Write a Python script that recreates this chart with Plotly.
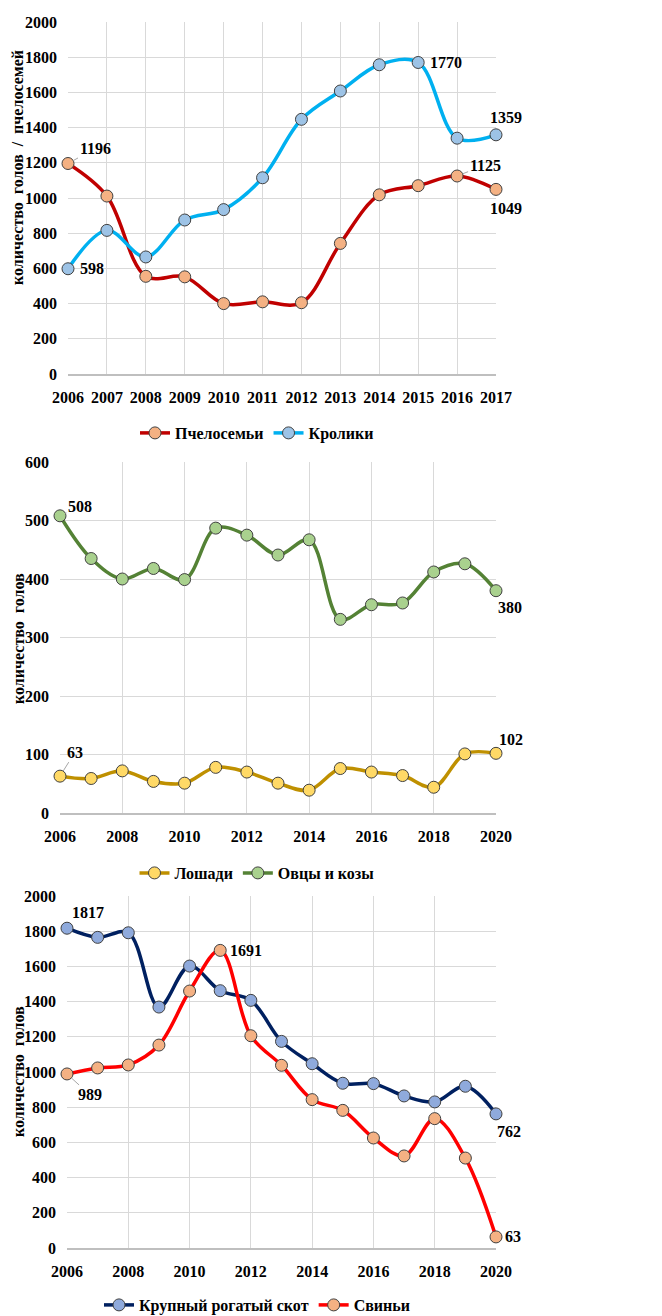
import plotly.graph_objects as go

W, H = 662, 1316

# ---------------- data ----------------
years1 = list(range(2006, 2018))
bees = [1196, 1011, 555, 552, 400, 410, 405, 742, 1018, 1070, 1125, 1049]
rabbits = [598, 816, 665, 875, 934, 1115, 1447, 1608, 1757, 1770, 1340, 1359]

years2 = list(range(2006, 2021))
horses = [63, 59, 72, 54, 51, 78, 70, 51, 39, 76, 70, 64, 44, 101, 102]
sheep = [508, 435, 400, 418, 399, 487, 475, 441, 467, 331, 356, 359, 412, 426, 380]

years3 = list(range(2006, 2021))
cattle = [1817, 1765, 1791, 1369, 1602, 1462, 1407, 1174, 1047, 936, 934, 864, 830, 919, 762]
pigs = [989, 1023, 1040, 1153, 1460, 1691, 1206, 1038, 843, 782, 625, 523, 735, 511, 63]

names1 = ["Пчелосемьи", "Кролики"]
names2 = ["Лошади", "Овцы и козы"]
names3 = ["Крупный рогатый скот", "Свиньи"]
ytitle1 = "количество  голов  /  пчелосемей"
ytitle23 = "количество  голов"

FONT = "Liberation Serif"
GRID = "#D9D9D9"


def px_x(p):
    return p / W


def px_y(p):
    return 1 - p / H


fig = go.Figure()


def add_series(x, y, name, line_color, marker_color, xa, ya, legend):
    fig.add_trace(go.Scatter(
        x=x, y=y, name=name, mode="lines+markers",
        line=dict(color=line_color, width=3.5, shape="spline", smoothing=1.0),
        marker=dict(size=12, color=marker_color, line=dict(color="#404040", width=1)),
        xaxis=xa, yaxis=ya, legend=legend, cliponaxis=False,
    ))


add_series(years1, bees, names1[0], "#C00000", "#F4B183", "x", "y", "legend")
add_series(years1, rabbits, names1[1], "#00B0F0", "#9DC3E6", "x", "y", "legend")
add_series(years2, horses, names2[0], "#BF9000", "#FFD966", "x2", "y2", "legend2")
add_series(years2, sheep, names2[1], "#548235", "#A9D18E", "x2", "y2", "legend2")
add_series(years3, cattle, names3[0], "#002060", "#8FAADC", "x3", "y3", "legend3")
add_series(years3, pigs, names3[1], "#FF0000", "#F4B183", "x3", "y3", "legend3")

tickfont = dict(family=FONT, size=16, color="black", weight="bold")


def xaxis(dom, rng, dtick, anchor):
    return dict(domain=[px_x(dom[0]), px_x(dom[1])], range=rng, dtick=dtick,
                showgrid=True, gridcolor=GRID, gridwidth=1, zeroline=False,
                showline=True, linecolor="#BFBFBF", linewidth=1.5,
                tickfont=tickfont, ticks="", ticklabelstandoff=8,
                anchor=anchor, fixedrange=True, automargin=False)


def yaxis(dom, rng, dtick, anchor):
    return dict(domain=[px_y(dom[1]), px_y(dom[0])], range=rng, dtick=dtick,
                showgrid=True, gridcolor=GRID, gridwidth=1, zeroline=False,
                showline=False, tickfont=tickfont, ticks="",
                ticklabelstandoff=10, anchor=anchor, fixedrange=True,
                automargin=False)


# panel pixel boxes (left, right), (top, bottom)
p1x, p1y = (68, 496), (22, 374)
p2x, p2y = (60, 496), (462, 813)
p3x, p3y = (67, 496), (896, 1248)

legfont = dict(family=FONT, size=16, color="black", weight="bold")


def legend(ypx):
    return dict(orientation="h", x=px_x(257), xanchor="center",
                y=px_y(ypx), yanchor="middle", font=legfont,
                bgcolor="rgba(0,0,0,0)", itemwidth=30, tracegroupgap=0)


fig.update_layout(
    template="none",
    width=W, height=H, margin=dict(l=0, r=0, t=0, b=0, autoexpand=False),
    paper_bgcolor="white", plot_bgcolor="white",
    xaxis=xaxis(p1x, [2006, 2017], 1, "y"),
    yaxis=yaxis(p1y, [0, 2000], 200, "x"),
    xaxis2=xaxis(p2x, [2006, 2020], 2, "y2"),
    yaxis2=yaxis(p2y, [0, 600], 100, "x2"),
    xaxis3=xaxis(p3x, [2006, 2020], 2, "y3"),
    yaxis3=yaxis(p3y, [0, 2000], 200, "x3"),
    legend=legend(433), legend2=legend(873), legend3=legend(1305),
    showlegend=True,
)

labfont = dict(family=FONT, size=16, color="black", weight="bold")
ann = []


def label(xa, ya, x, y, xs, ys):
    ann.append(dict(xref=xa, yref=ya, x=x, y=y, text=str(y), showarrow=False,
                    xshift=xs, yshift=ys, font=labfont))


def leader(xa, ya, x, y, ax, ay):
    ann.append(dict(xref=xa, yref=ya, x=x, y=y, text=str(y), showarrow=True,
                    ax=ax, ay=ay, arrowhead=0, arrowwidth=1, arrowcolor="#A6A6A6",
                    standoff=6, font=labfont))


# panel 1
leader("x", "y", years1[0], bees[0], 27, -15)
label("x", "y", years1[0], rabbits[0], 24, 0)
label("x", "y", years1[9], rabbits[9], 28, 0)
label("x", "y", years1[11], rabbits[11], 10, 17)
leader("x", "y", years1[10], bees[10], 28, -11)
label("x", "y", years1[11], bees[11], 10, -19)
# panel 2
leader("x2", "y2", years2[0], sheep[0], 20, -9)
label("x2", "y2", years2[14], sheep[14], 14, -17)
leader("x2", "y2", years2[0], horses[0], 15, -24)
label("x2", "y2", years2[14], horses[14], 15, 14)
# panel 3
label("x3", "y3", years3[0], cattle[0], 21, 16)
label("x3", "y3", years3[5], pigs[5], 26, 0)
leader("x3", "y3", years3[0], pigs[0], 23, 21)
label("x3", "y3", years3[14], cattle[14], 13, -18)
label("x3", "y3", years3[14], pigs[14], 17, 0)

# y axis titles
for txt, cy in [(ytitle1, 168), (ytitle23, 639), (ytitle23, 1072)]:
    ann.append(dict(xref="paper", yref="paper", x=px_x(18), y=px_y(cy),
                    text=txt, textangle=-90, showarrow=False,
                    font=dict(family=FONT, size=16, color="black", weight="bold"),
                    xanchor="center", yanchor="middle"))

fig.update_layout(annotations=ann)
fig.write_html("out.html",
               config={"displayModeBar": False, "staticPlot": True},
               post_script="document.body.style.margin='0px';"
                           "document.body.style.overflow='hidden';")
